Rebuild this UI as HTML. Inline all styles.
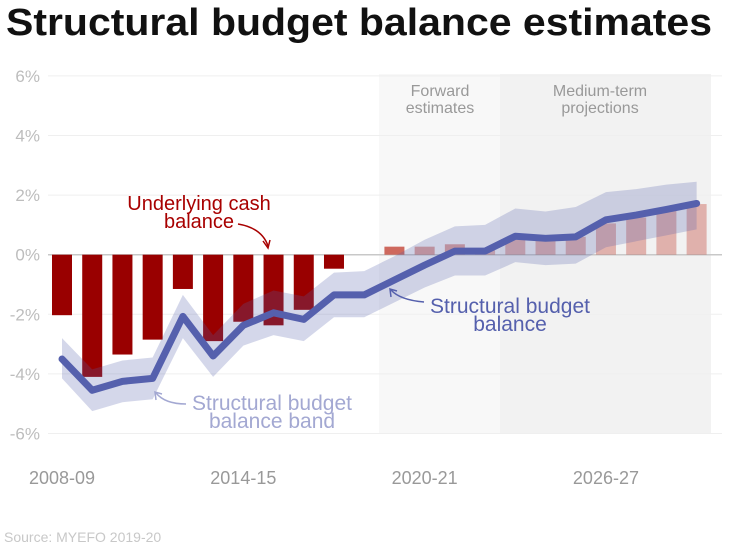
<!DOCTYPE html>
<html><head><meta charset="utf-8"><style>
body{margin:0;background:#fff;font-family:"Liberation Sans",sans-serif}
svg text{font-family:"Liberation Sans",sans-serif}
</style></head><body>
<svg id="c" width="754" height="549">
<text x="6" y="35" font-size="38" font-weight="bold" fill="#111" textLength="706" lengthAdjust="spacingAndGlyphs">Structural budget balance estimates</text>
<rect x="379" y="74" width="121" height="360" fill="#f8f8f8"/>
<rect x="500" y="74" width="211" height="360" fill="#f2f2f2"/>
<g id="grid"></g><g id="bars"></g><g id="band"></g><g id="line"></g><g id="axes"></g>
<text x="440" y="96" font-size="16" fill="#999" text-anchor="middle"><tspan x="440">Forward</tspan><tspan x="440" dy="17">estimates</tspan></text>
<text x="600" y="96" font-size="16" fill="#999" text-anchor="middle"><tspan x="600">Medium-term</tspan><tspan x="600" dy="17">projections</tspan></text>
<text x="199" y="210" font-size="20" fill="#a80000" text-anchor="middle"><tspan x="199">Underlying cash</tspan><tspan x="199" dy="18">balance</tspan></text>
<path d="M238,224 Q262,228 268,246" stroke="#a80000" stroke-width="1.5" fill="none"/><path d="M263,241 L268,248 L270,240" stroke="#a80000" stroke-width="1.5" fill="none"/>
<text x="510" y="313" font-size="21" fill="#5560ad" text-anchor="middle"><tspan x="510">Structural budget</tspan><tspan x="510" dy="18">balance</tspan></text>
<path d="M424,302 Q400,300 391,290" stroke="#5560ad" stroke-width="1.5" fill="none"/><path d="M391,297 L390,289 L397,291" stroke="#5560ad" stroke-width="1.5" fill="none"/>
<text x="272" y="410" font-size="21" fill="#a3a8d2" text-anchor="middle"><tspan x="272">Structural budget</tspan><tspan x="272" dy="18">balance band</tspan></text>
<path d="M186,404 Q165,404 156,393" stroke="#a3a8d2" stroke-width="1.5" fill="none"/><path d="M156,400 L155,392 L162,394" stroke="#a3a8d2" stroke-width="1.5" fill="none"/>
<text x="4" y="542" font-size="14" fill="#c8c8c8">Source: MYEFO 2019-20</text>
</svg>
<script>
const years=["2008-09","2009-10","2010-11","2011-12","2012-13","2013-14","2014-15","2015-16","2016-17","2017-18","2018-19","2019-20","2020-21","2021-22","2022-23","2023-24","2024-25","2025-26","2026-27","2027-28","2028-29","2029-30"];
const cashBalance=[-2.03,-4.1,-3.35,-2.85,-1.15,-2.9,-2.25,-2.37,-1.85,-0.47,0,0.27,0.27,0.35,0.15,0.5,0.55,0.6,1.05,1.25,1.5,1.7];
const structural=[-3.5,-4.55,-4.25,-4.15,-2.07,-3.4,-2.37,-1.95,-2.17,-1.35,-1.35,-0.85,-0.35,0.12,0.12,0.62,0.55,0.6,1.17,1.33,1.52,1.72];
const bandHigh=[-2.8,-3.85,-3.55,-3.45,-1.35,-2.7,-1.65,-1.2,-1.4,-0.6,-0.55,-0.05,0.5,0.95,1.0,1.55,1.45,1.6,2.1,2.2,2.35,2.45];
const bandLow=[-4.15,-5.25,-4.95,-4.85,-2.8,-4.1,-3.05,-2.7,-2.9,-2.1,-2.1,-1.6,-1.1,-0.7,-0.7,-0.25,-0.35,-0.3,0.25,0.45,0.65,0.85];
const yTicks=[6,4,2,0,-2,-4,-6];
const xLabelIdx=[0,6,12,18];
const NS="http://www.w3.org/2000/svg";
const x=i=>62+i*30.22, y=v=>254.7-v*29.8;
function mk(t,a,p){const e=document.createElementNS(NS,t);for(const k in a)e.setAttribute(k,a[k]);document.getElementById(p).appendChild(e);return e;}
yTicks.forEach(v=>{
 const l=mk('line',{x1:48,x2:722,y1:y(v),y2:y(v),stroke:v===0?'#c8c8c8':'#efefef','stroke-width':v===0?1.5:1},'grid');
 
 
 const t=mk('text',{x:40,y:y(v)+6,'font-size':17,fill:'#bdbdbd','text-anchor':'end'},'axes');
 t.textContent=v+'%';
 
 
});
xLabelIdx.forEach(i=>{
 const t=mk('text',{x:x(i),y:484,'font-size':18,fill:'#999','text-anchor':'middle'},'axes');
 t.textContent=years[i];
 
 
});
cashBalance.forEach((v,i)=>{
 if(v===0)return;
 const op=i<11?1:i===11?0.75:i<14?0.45:0.35;
 const col=i<11?'#990000':'#c0392b';
 const r=mk('rect',{x:x(i)-10,width:20,y:Math.min(y(v),y(0)),height:Math.abs(y(v)-y(0)),fill:col,'fill-opacity':op},'bars');
 
 
});
let d=bandHigh.map((v,i)=>(i?'L':'M')+x(i)+','+y(v)).join('')+bandLow.map((v,i)=>[i,v]).reverse().map(([i,v])=>'L'+x(i)+','+y(v)).join('')+'Z';
const b=mk('path',{d:d,fill:'#5560ad','fill-opacity':0.25},'band');


const ln=mk('path',{d:structural.map((v,i)=>(i?'L':'M')+x(i)+','+y(v)).join(''),stroke:'#5560ad','stroke-width':7,fill:'none','stroke-linejoin':'round','stroke-linecap':'round'},'line');


</script>
</body></html>
